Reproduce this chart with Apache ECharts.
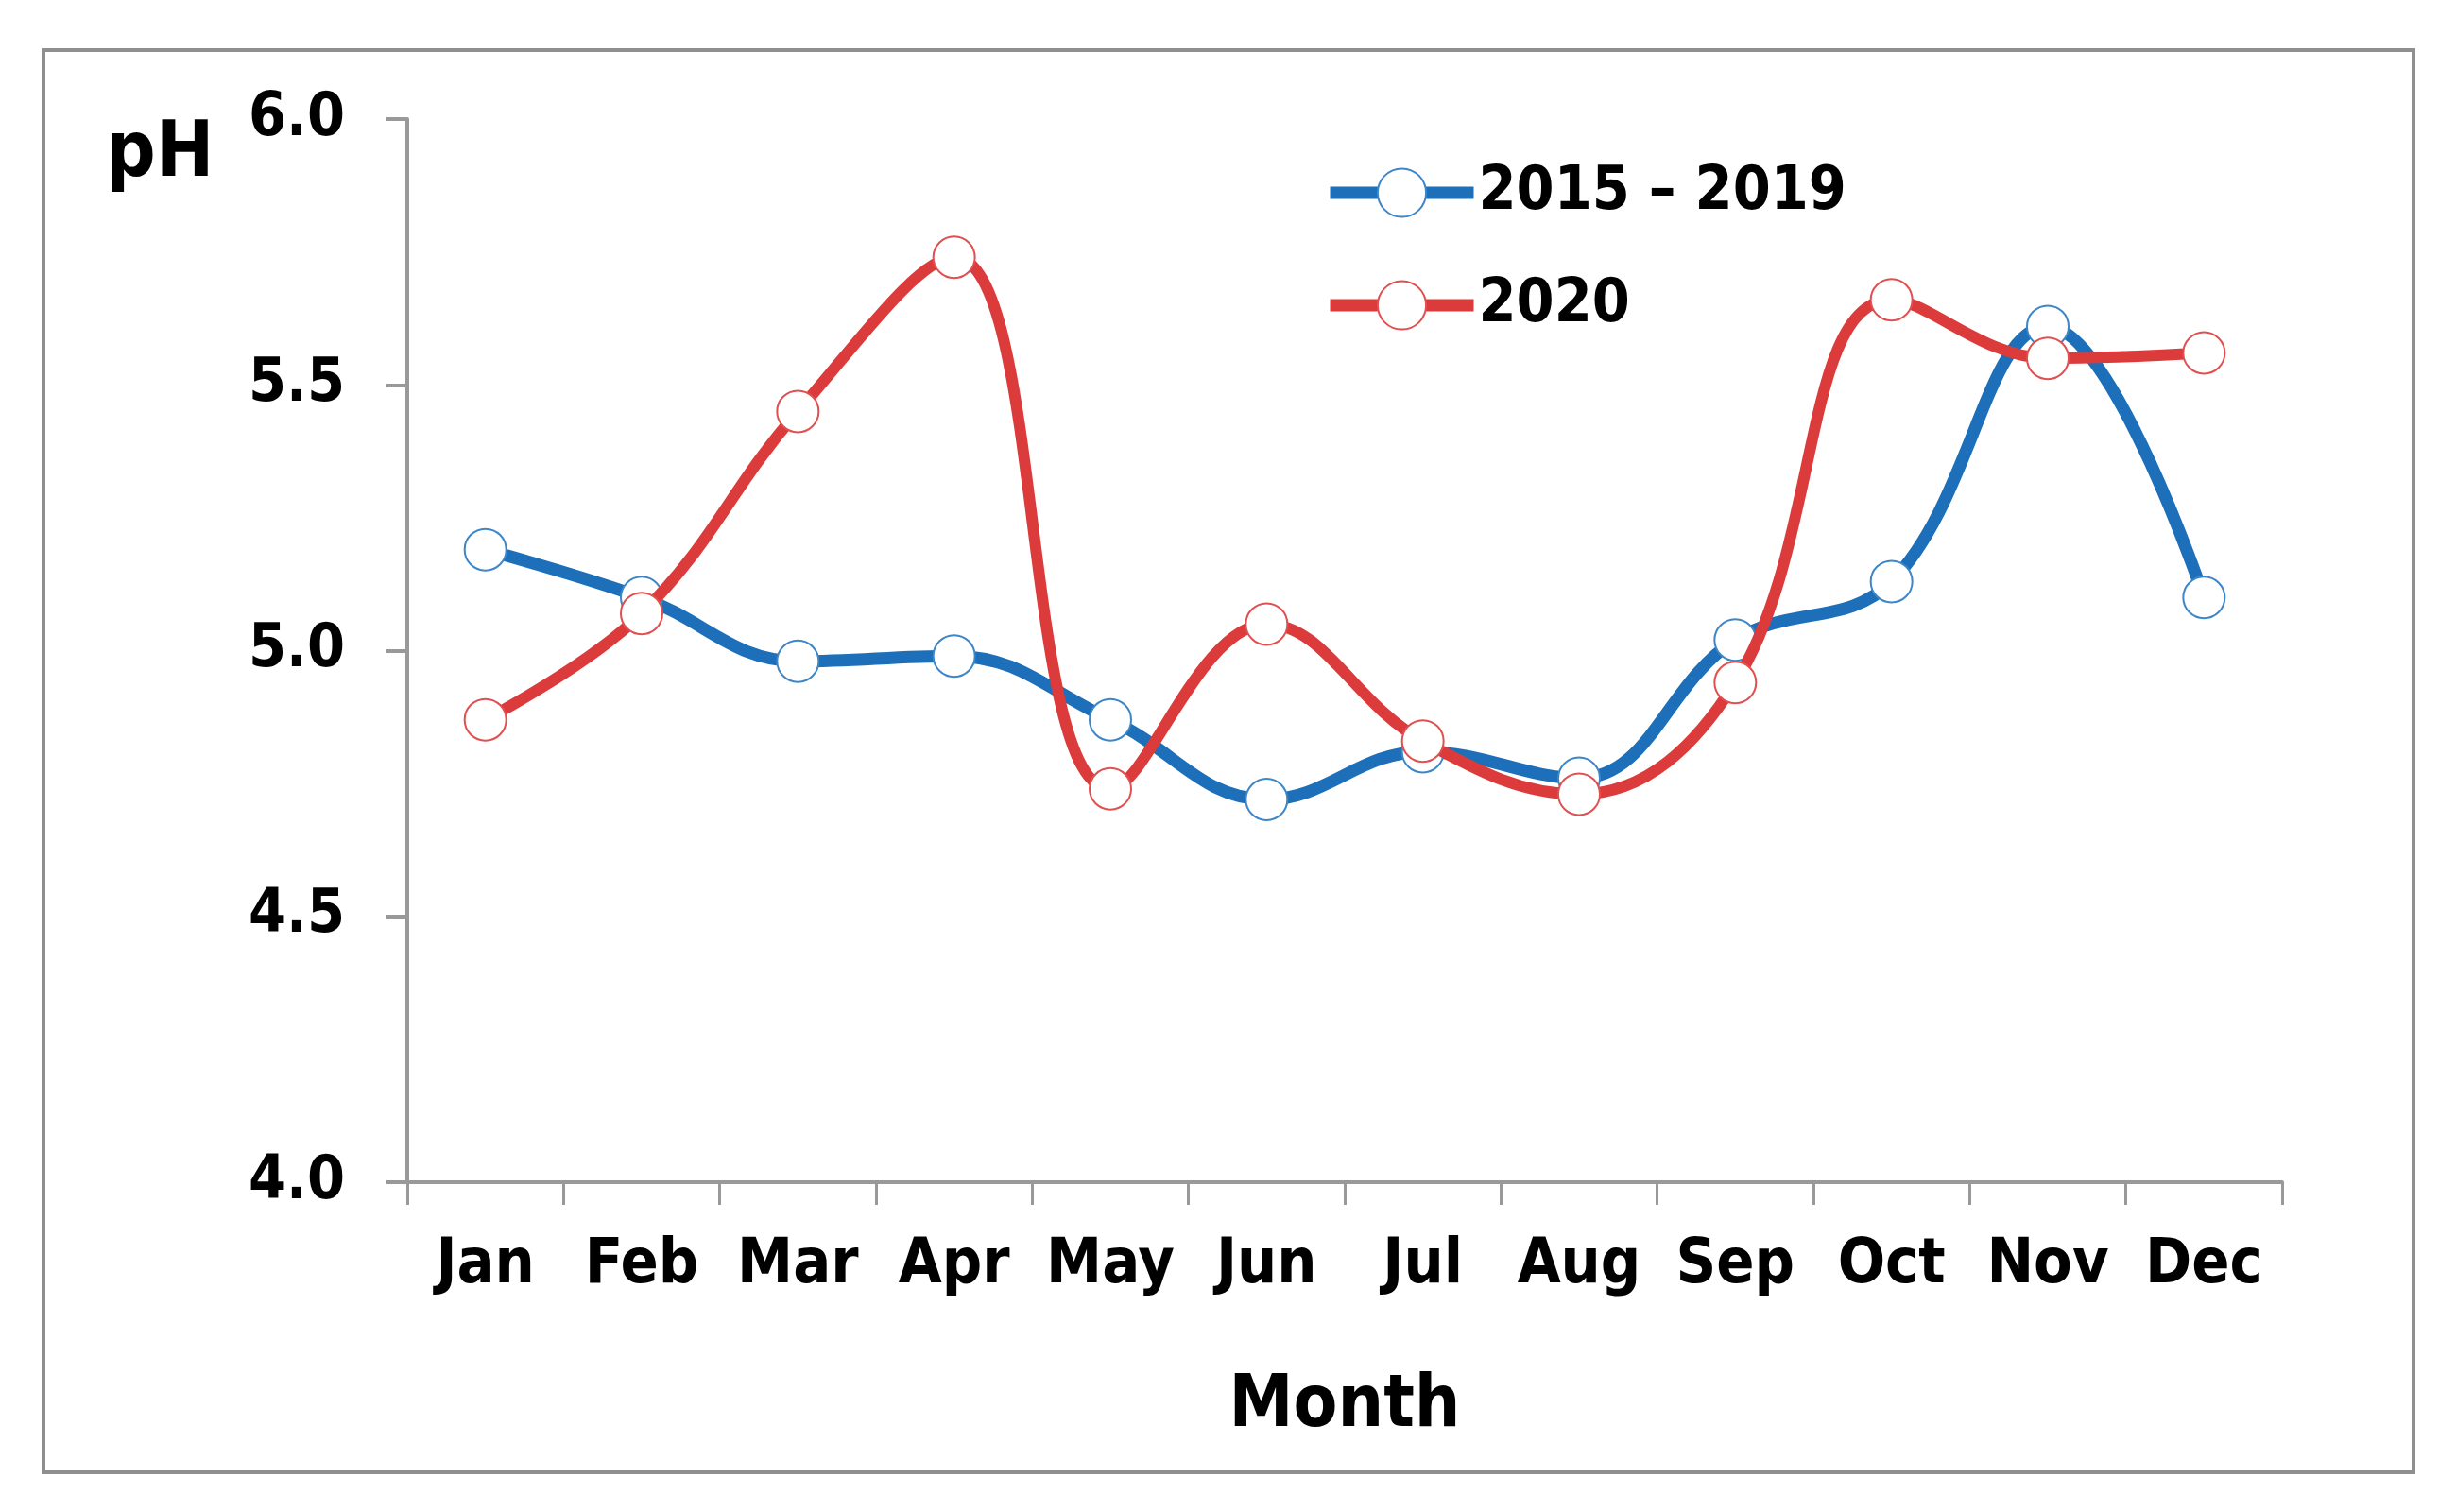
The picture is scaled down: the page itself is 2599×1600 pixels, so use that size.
<!DOCTYPE html>
<html>
<head>
<meta charset="utf-8">
<script src="https://cdn.jsdelivr.net/npm/echarts@6/dist/echarts.min.js"></script>
<style>
html,body{margin:0;padding:0;background:#fff;}
#c{width:2599px;height:1600px;}
</style>
</head>
<body>
<div id="c"></div>
<script>
const months = ['Jan','Feb','Mar','Apr','May','Jun','Jul','Aug','Sep','Oct','Nov','Dec'];
const seriesNames = ['2015 – 2019', '2020'];
const ph2015_2019 = [5.19, 5.10, 4.98, 4.99, 4.87, 4.72, 4.81, 4.76, 5.02, 5.13, 5.61, 5.10];
const ph2020 = [4.87, 5.07, 5.45, 5.74, 4.74, 5.05, 4.83, 4.73, 4.94, 5.66, 5.55, 5.56];
const yTicks = {min: 4.0, max: 6.0, interval: 0.5};

const FONT = '"Liberation Sans Narrow", "DejaVu Sans Condensed", "Liberation Sans", sans-serif';
const BLUE = '#1c6fb8';
const RED = '#dc3b3b';

const chart = echarts.init(document.getElementById('c'), null, {renderer: 'canvas'});
chart.setOption({
  backgroundColor: '#ffffff',
  animation: false,
  grid: {left: 431, right: 184, top: 126, bottom: 349, containLabel: false},
  legend: {
    orient: 'vertical',
    left: 1396,
    top: 167,
    itemWidth: 152,
    itemHeight: 64,
    itemGap: 55,
    lineStyle: {width: 13},
    textStyle: {fontFamily: FONT, fontWeight: 'bold', fontSize: 64, color: '#000', padding: [0,0,0,0]},
    data: seriesNames
  },
  xAxis: {
    type: 'category',
    data: months,
    boundaryGap: true,
    name: 'Month',
    nameLocation: 'middle',
    nameGap: 200,
    nameTextStyle: {fontFamily: FONT, fontWeight: 'bold', fontSize: 76, color: '#000'},
    axisLine: {lineStyle: {color: '#999999', width: 4}},
    axisTick: {show: true, inside: false, length: 24, lineStyle: {color: '#999999', width: 3}},
    axisLabel: {fontFamily: FONT, fontWeight: 'bold', fontSize: 66, color: '#000', margin: 56, interval: 0},
    splitLine: {show: false}
  },
  yAxis: {
    type: 'value',
    min: yTicks.min,
    max: yTicks.max,
    interval: yTicks.interval,
    axisLine: {show: true, lineStyle: {color: '#999999', width: 4}},
    axisTick: {show: true, inside: false, length: 22, lineStyle: {color: '#999999', width: 4}},
    axisLabel: {fontFamily: FONT, fontWeight: 'bold', fontSize: 64, color: '#000', margin: 66,
      formatter: v => v.toFixed(1)},
    splitLine: {show: false}
  },
  graphic: [
    {type: 'rect', shape: {x: 46, y: 53, width: 2508, height: 1505}, style: {fill: 'none', stroke: '#8f8f8f', lineWidth: 4}, silent: true, z: -1},
    {type: 'text', left: 112, top: 124, style: {text: 'pH', fontFamily: FONT, fontWeight: 'bold', fontSize: 82, fill: '#000'}}
  ],
  series: [
    {
      name: seriesNames[0], type: 'line', data: ph2015_2019, smooth: 0.4,
      symbol: 'emptyCircle', symbolSize: 44,
      lineStyle: {color: BLUE, width: 13},
      itemStyle: {color: '#3d86c8', borderColor: '#3d86c8', borderWidth: 3.5},
      z: 2
    },
    {
      name: seriesNames[1], type: 'line', data: ph2020, smooth: 0.4,
      symbol: 'emptyCircle', symbolSize: 44,
      lineStyle: {color: RED, width: 12},
      itemStyle: {color: '#e05050', borderColor: '#e05050', borderWidth: 3.5},
      z: 3
    }
  ]
});
</script>
</body>
</html>
